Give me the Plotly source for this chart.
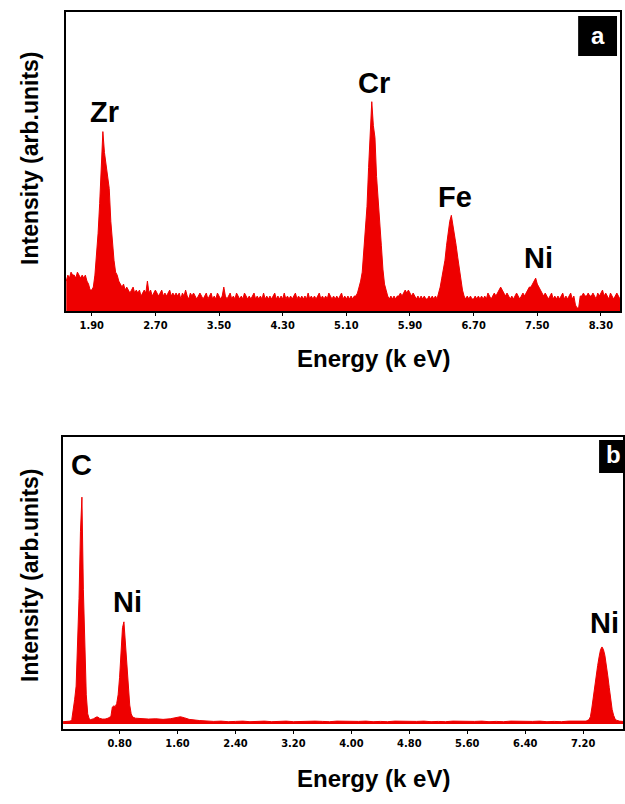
import numpy as np
import plotly.graph_objects as go

W, H = 625, 804

# ---------------- Panel (a) data ----------------
a_energy_start = 1.58   # keV
a_energy_step = 0.02    # keV
a_intensity = [
    10, 12, 11, 13, 12, 12, 11, 13, 12, 11,      # 1.58
    12, 11, 12, 10, 9, 7, 7, 8, 12, 18,          # 1.78
    26, 36, 46, 60, 53, 49, 46, 41, 30, 23,      # 1.98
    17, 13, 12, 10, 9, 8, 9, 7, 8, 7,            # 2.18
    6, 7, 8, 6, 7, 6, 7, 5, 6, 7,                # 2.38
    6, 10, 6, 7, 5, 6, 7, 6, 5, 6,               # 2.58
    7, 5, 6, 5, 6, 7, 5, 6, 5, 6,                # 2.78
    5, 6, 4, 6, 5, 7, 5, 4, 6, 5,                # 2.98
    6, 5, 4, 5, 6, 5, 4, 5, 6, 4,                # 3.18
    5, 6, 4, 5, 4, 6, 5, 4, 5, 8,                # 3.38
    5, 4, 5, 6, 4, 5, 4, 6, 5, 4,                # 3.58
    5, 4, 6, 5, 4, 5, 4, 5, 6, 4,                # 3.78
    5, 4, 5, 4, 6, 4, 5, 4, 5, 4,                # 3.98
    5, 6, 4, 5, 4, 5, 4, 6, 4, 5,                # 4.18
    4, 5, 4, 5, 6, 4, 5, 4, 5, 4,                # 4.38
    5, 4, 6, 4, 5, 4, 5, 4, 5, 6,                # 4.58
    4, 5, 4, 5, 4, 6, 5, 4, 5, 4,                # 4.78
    5, 4, 5, 6, 4, 5, 4, 5, 4, 5,                # 4.98
    4, 5, 5, 6, 8, 10, 13, 20, 27, 35,           # 5.18
    48, 62, 70, 62, 58, 45, 36, 30, 22, 14,      # 5.38
    9, 7, 5, 4, 5, 4, 5, 4, 5, 5,                # 5.58
    6, 5, 6, 7, 6, 7, 6, 5, 6, 5,                # 5.78
    4, 5, 4, 5, 4, 5, 4, 4, 5, 4,                # 5.98
    5, 4, 5, 4, 6, 8, 11, 14, 17, 22,            # 6.18
    26, 30, 32, 29, 26, 22, 18, 14, 10, 7,       # 6.38
    5, 4, 5, 4, 5, 4, 4, 5, 4, 5,                # 6.58
    4, 5, 4, 5, 4, 6, 5, 4, 5, 6,                # 6.78
    5, 6, 7, 8, 7, 6, 5, 6, 5, 4,                # 6.98
    5, 4, 5, 6, 5, 4, 5, 6, 5, 6,                # 7.18
    7, 8, 8, 9, 10, 11, 9, 8, 7, 6,              # 7.38
    5, 6, 5, 4, 5, 6, 4, 5, 4, 5,                # 7.58
    4, 5, 6, 4, 5, 4, 5, 6, 4, 5,                # 7.78
    2, 1, 1, 5, 5, 6, 5, 5, 6, 5,                # 7.98
    5, 6, 5, 4, 6, 5, 6, 7, 5, 6,                # 8.18
    5, 4, 6, 5, 4, 5, 6, 5, 4,                   # 8.38
]
a_ticks = [1.90, 2.70, 3.50, 4.30, 5.10, 5.90, 6.70, 7.50, 8.30]
a_peak_labels = ["Zr", "Cr", "Fe", "Ni"]
a_peak_label_x = [2.06, 5.45, 6.47, 7.51]
a_peak_label_y = [66.6, 76.3, 38.1, 17.7]

# ---------------- Panel (b) data ----------------
b_energy = [
    0.02, 0.06, 0.10, 0.12, 0.14, 0.16, 0.18, 0.20, 0.22, 0.24,
    0.26, 0.28, 0.30, 0.32, 0.34, 0.36, 0.38, 0.40, 0.44, 0.48,
    0.50, 0.52, 0.56, 0.60, 0.64, 0.68, 0.70, 0.72, 0.74, 0.76,
    0.78, 0.80, 0.82, 0.84, 0.86, 0.88, 0.90, 0.92, 0.94, 0.96,
    0.98, 1.02, 1.10, 1.20, 1.30, 1.40, 1.50, 1.58, 1.64, 1.70,
    1.76, 1.90, 2.00, 2.10, 2.20, 2.30, 2.40, 2.50, 2.60, 2.70,
    2.80, 2.90, 3.00, 3.10, 3.20, 3.30, 3.40, 3.50, 3.60, 3.70,
    3.80, 3.90, 4.00, 4.10, 4.20, 4.30, 4.40, 4.50, 4.60, 4.70,
    4.80, 4.90, 5.00, 5.10, 5.20, 5.30, 5.40, 5.50, 5.60, 5.70,
    5.80, 5.90, 6.00, 6.10, 6.20, 6.30, 6.40, 6.50, 6.60, 6.70,
    6.80, 6.90, 7.00, 7.10, 7.20, 7.24, 7.28, 7.30, 7.32, 7.34,
    7.36, 7.38, 7.40, 7.42, 7.44, 7.46, 7.48, 7.50, 7.52, 7.54,
    7.56, 7.58, 7.60, 7.62, 7.64, 7.66, 7.70, 7.75,
]
b_intensity = [
    0.8, 0.9, 0.9, 1.0, 1.5, 4.5, 8.5, 13, 26, 43,
    66, 77.7, 46, 26, 10, 3.5, 1.8, 1.5, 1.8, 2.4,
    2.4, 2.0, 1.7, 1.7, 2.0, 2.6, 5.8, 6.2, 6.0, 7.0,
    10, 16, 24, 33, 35, 28, 19, 11, 6.5, 3.5,
    2.4, 2.0, 1.8, 1.7, 1.8, 1.6, 1.8, 2.2, 2.5, 2.1,
    1.6, 1.2, 1.0, 0.9, 1.0, 0.8, 0.9, 1.0, 0.8, 0.9,
    1.0, 0.8, 0.9, 1.0, 0.8, 0.9, 0.8, 1.0, 0.9, 0.8,
    1.0, 0.9, 0.8, 0.9, 1.0, 0.8, 0.9, 0.8, 1.0, 0.9,
    0.8, 0.9, 1.0, 0.8, 0.9, 0.8, 1.0, 0.9, 0.8, 0.9,
    1.0, 0.8, 0.9, 0.8, 1.0, 0.9, 0.8, 0.9, 1.0, 0.8,
    0.9, 0.8, 1.0, 0.9, 0.9, 1.0, 1.5, 2.5, 5.5, 9.5,
    13, 16, 20, 23, 25.5, 26.4, 25.5, 23.5, 20.5, 16.5,
    12.5, 8.5, 5, 3, 1.8, 1.3, 1.0, 0.9,
]
b_ticks = [0.80, 1.60, 2.40, 3.20, 4.00, 4.80, 5.60, 6.40, 7.20]
b_peak_labels = ["C", "Ni", "Ni"]
b_peak_label_x = [0.277, 0.91, 7.50]
b_peak_label_y = [88.7, 41.8, 34.6]

# ---------------- figure ----------------
a_energy = a_energy_start + a_energy_step * np.arange(len(a_intensity))

RED = "rgb(238,0,0)"
px = lambda x: x / W
py = lambda y: 1 - y / H

fig = go.Figure()
fig.add_trace(go.Scatter(x=a_energy, y=a_intensity, mode="lines", fill="tozeroy",
                         line=dict(color=RED, width=1), fillcolor=RED,
                         xaxis="x", yaxis="y", showlegend=False, hoverinfo="skip"))
fig.add_trace(go.Scatter(x=b_energy, y=b_intensity, mode="lines", fill="tozeroy",
                         line=dict(color=RED, width=1), fillcolor=RED,
                         xaxis="x2", yaxis="y2", showlegend=False, hoverinfo="skip"))

tickfont = dict(family="Liberation Sans Narrow, DejaVu Sans Condensed, sans-serif",
                size=11, color="black", weight="bold")
axis_common = dict(showline=True, linecolor="black", linewidth=2, mirror=True,
                   showgrid=False, zeroline=False)

fig.update_layout(
    width=W, height=H, margin=dict(l=0, r=0, t=0, b=0),
    paper_bgcolor="white", plot_bgcolor="white", showlegend=False,
    xaxis=dict(domain=[px(66), px(622)], range=[1.574, 8.54], anchor="y",
               tickvals=a_ticks, ticktext=[f"{t:.2f}" for t in a_ticks],
               ticks="outside", ticklen=3, tickwidth=1, tickcolor="black",
               tickfont=tickfont, **axis_common),
    yaxis=dict(domain=[py(311), py(12)], range=[0, 100], anchor="x",
               showticklabels=False, ticks="", **axis_common),
    xaxis2=dict(domain=[px(63), 1.0], range=[0.016, 7.75], anchor="y2",
                tickvals=b_ticks, ticktext=[f"{t:.2f}" for t in b_ticks],
                ticks="outside", ticklen=3, tickwidth=1, tickcolor="black",
                tickfont=tickfont, **axis_common),
    yaxis2=dict(domain=[py(729), py(437)], range=[-1.7, 98.3], anchor="x2",
                showticklabels=False, ticks="", **axis_common),
)

label_font = dict(family="Liberation Sans, Arial, sans-serif", size=29,
                  color="black", weight="bold")
for t, e, y in zip(a_peak_labels, a_peak_label_x, a_peak_label_y):
    fig.add_annotation(x=e, y=y, xref="x", yref="y", text=t, showarrow=False,
                       font=label_font, xanchor="center", yanchor="middle")
for t, e, y in zip(b_peak_labels, b_peak_label_x, b_peak_label_y):
    fig.add_annotation(x=e, y=y, xref="x2", yref="y2", text=t, showarrow=False,
                       font=label_font, xanchor="center", yanchor="middle")

title_font = dict(family="Liberation Sans, Arial, sans-serif", size=24,
                  color="black", weight="bold")
ytitle_font = dict(family="Liberation Sans, Arial, sans-serif", size=23,
                   color="black", weight="bold")
for ycen in (358, 778):
    fig.add_annotation(x=px(375), y=py(ycen), xref="paper", yref="paper",
                       text="Energy (k eV)", showarrow=False, font=title_font,
                       xanchor="center", yanchor="middle")
for ycen in (158, 575):
    fig.add_annotation(x=px(30), y=py(ycen), xref="paper", yref="paper",
                       text="Intensity (arb.units)", showarrow=False, textangle=-90,
                       font=ytitle_font, xanchor="center", yanchor="middle")

# panel letter boxes
fig.add_shape(type="rect", xref="paper", yref="paper",
              x0=px(580), x1=px(619), y0=py(56), y1=py(16),
              fillcolor="black", line=dict(width=0))
fig.add_annotation(x=px(599.5), y=py(35), xref="paper", yref="paper", text="a",
                   showarrow=False, xanchor="center", yanchor="middle",
                   font=dict(family="Liberation Sans, Arial", size=24,
                             color="white", weight="bold"))
fig.add_shape(type="rect", xref="paper", yref="paper",
              x0=px(601), x1=1.0, y0=py(473), y1=py(440),
              fillcolor="black", line=dict(width=0))
fig.add_annotation(x=px(615), y=py(455), xref="paper", yref="paper", text="b",
                   showarrow=False, xanchor="center", yanchor="middle",
                   font=dict(family="Liberation Sans, Arial", size=24,
                             color="white", weight="bold"))

fig.write_html(
    "out.html",
    config={"displayModeBar": False},
    post_script="document.body.style.margin='0';document.body.style.padding='0';"
                "document.body.style.overflow='hidden';",
)
